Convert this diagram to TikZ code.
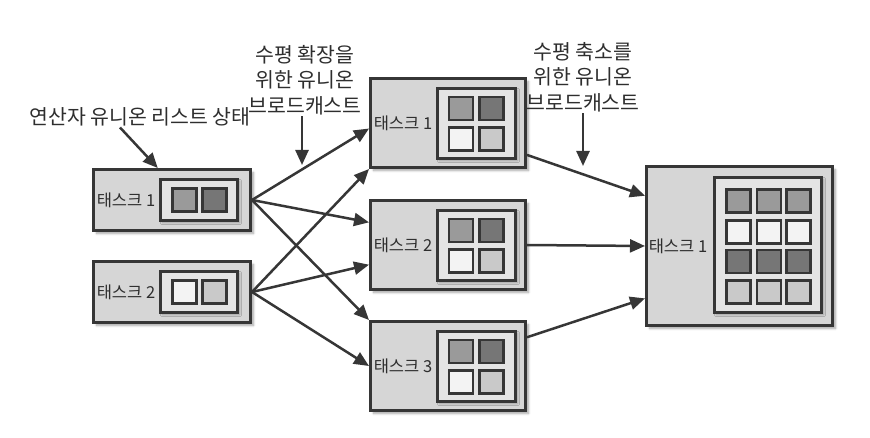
\documentclass[tikz,border=0pt]{standalone}
\usepackage{fontspec}
\setmainfont{Noto Sans CJK KR}
\usetikzlibrary{arrows.meta,shadows.blur}

\definecolor{boxgray}{HTML}{D6D6D6}
\definecolor{innergray}{HTML}{E4E4E4}
\definecolor{edgegray}{HTML}{363636}
\definecolor{sqmid}{HTML}{9A9A9A}
\definecolor{sqdark}{HTML}{767676}
\definecolor{sqlight}{HTML}{F3F3F3}
\definecolor{sqpale}{HTML}{C9C9C9}
\definecolor{textgray}{HTML}{2E2E2E}

\begin{document}
\begin{tikzpicture}[x=1pt,y=-1pt,
  task/.style={draw=edgegray, fill=boxgray, line width=3pt, inner sep=0pt,
    blur shadow={shadow xshift=3pt, shadow yshift=-3pt, shadow blur steps=6, shadow opacity=35}},
  inbox/.style={draw=edgegray, fill=innergray, line width=3pt, inner sep=0pt,
    blur shadow={shadow xshift=2pt, shadow yshift=-2pt, shadow blur steps=4, shadow opacity=30}},
  cell/.style={draw=edgegray, line width=2.8pt, inner sep=0pt,
    minimum width=24pt, minimum height=23pt},
  tasklabel/.style={text=textgray, inner sep=0pt, font=\fontsize{16.5}{19}\selectfont},
  note/.style={text=textgray, align=center, inner sep=1pt, font=\fontsize{20.5}{25.5}\selectfont},
  flow/.style={draw=edgegray, line width=2.5pt, -{Triangle[length=15pt,width=13pt]}}]

 \useasboundingbox (0,0) rectangle (870,438);

% boxes on the left
\node [task, minimum width=157pt, minimum height=61pt] (l1) at (172,200) {};
\node [task, minimum width=157pt, minimum height=61pt] (l2) at (172,292) {};
\node [inbox, minimum width=77pt, minimum height=41pt] (l1in) at (199,200) {};
\node [inbox, minimum width=77pt, minimum height=41pt] (l2in) at (199,292) {};
\node [cell, fill=sqmid] (l1a) at (184.5,200) {};
\node [cell, fill=sqdark] (l1b) at (214.5,200) {};
\node [cell, fill=sqlight] (l2a) at (184.5,292) {};
\node [cell, fill=sqpale] (l2b) at (214.5,292) {};
\node [tasklabel] (l1txt) at (126,200) {태스크 1};
\node [tasklabel] (l2txt) at (126,292) {태스크 2};

% boxes in the middle
\node [task, minimum width=155pt, minimum height=89pt] (m1) at (448,123) {};
\node [task, minimum width=155pt, minimum height=89pt] (m2) at (448,245) {};
\node [task, minimum width=155pt, minimum height=89pt] (m3) at (448,366) {};
\node [inbox, minimum width=78pt, minimum height=70pt] (m1in) at (476.5,123.5) {};
\node [inbox, minimum width=78pt, minimum height=70pt] (m2in) at (476.5,245.5) {};
\node [inbox, minimum width=78pt, minimum height=70pt] (m3in) at (476.5,366.5) {};
\node [cell, fill=sqmid] (m1a) at (461,108.5) {};
\node [cell, fill=sqdark] (m1b) at (491.5,108.5) {};
\node [cell, fill=sqlight] (m1c) at (461,139) {};
\node [cell, fill=sqpale] (m1d) at (491.5,139) {};
\node [cell, fill=sqmid] (m2a) at (461,230.5) {};
\node [cell, fill=sqdark] (m2b) at (491.5,230.5) {};
\node [cell, fill=sqlight] (m2c) at (461,261) {};
\node [cell, fill=sqpale] (m2d) at (491.5,261) {};
\node [cell, fill=sqmid] (m3a) at (461,351.5) {};
\node [cell, fill=sqdark] (m3b) at (491.5,351.5) {};
\node [cell, fill=sqlight] (m3c) at (461,382) {};
\node [cell, fill=sqpale] (m3d) at (491.5,382) {};
\node [tasklabel] (m1txt) at (403,123) {태스크 1};
\node [tasklabel] (m2txt) at (403,245) {태스크 2};
\node [tasklabel] (m3txt) at (403,366) {태스크 3};

% box on the right
\node [task, minimum width=186pt, minimum height=159pt] (r1) at (739.5,246) {};
\node [inbox, minimum width=107pt, minimum height=135pt] (r1in) at (768,245) {};
\node [cell, fill=sqmid] (r1a) at (738.5,201) {};
\node [cell, fill=sqmid] (r1b) at (769,201) {};
\node [cell, fill=sqmid] (r1c) at (798.5,201) {};
\node [cell, fill=sqlight] (r1d) at (738.5,232) {};
\node [cell, fill=sqlight] (r1e) at (769,232) {};
\node [cell, fill=sqlight] (r1f) at (798.5,232) {};
\node [cell, fill=sqdark] (r1g) at (738.5,261.5) {};
\node [cell, fill=sqdark] (r1h) at (769,261.5) {};
\node [cell, fill=sqdark] (r1i) at (798.5,261.5) {};
\node [cell, fill=sqpale] (r1j) at (738.5,292) {};
\node [cell, fill=sqpale] (r1k) at (769,292) {};
\node [cell, fill=sqpale] (r1l) at (798.5,292) {};
\node [tasklabel] (r1txt) at (678,246) {태스크 1};

% notes
\node [note] (opstate) at (140,117) {연산자 유니온 리스트 상태};
\node [note] (hexp) at (305,80) {수평 확장을\\위한 유니온\\브로드캐스트};
\node [note] (hred) at (583,77) {수평 축소를\\위한 유니온\\브로드캐스트};
\coordinate (hexptip) at (302,165);
\coordinate (hredtip) at (583,166);

\draw [flow] ([xshift=-20pt]opstate.south) -- (l1.114);
\draw [flow] (hexp.south -| hexptip) -- (hexptip);
\draw [flow] (hred.south -| hredtip) -- (hredtip);

% broadcast for scale-out
\draw [flow] (l1.east) -- (m1.184);
\draw [flow] (l1.east) -- (m2.164);
\draw [flow] (l1.east) -- (m3.north west);
\draw [flow] (l2.east) -- (m1.south west);
\draw [flow] (l2.east) -- (m2.194);
\draw [flow] (l2.east) -- (m3.west);

% broadcast for scale-in
\draw [flow] (m1.338) -- (r1.152);
\draw [flow] (m2.east) -- (r1.west);
\draw [flow] (m3.20) -- (r1.209);
\end{tikzpicture}
\end{document}
